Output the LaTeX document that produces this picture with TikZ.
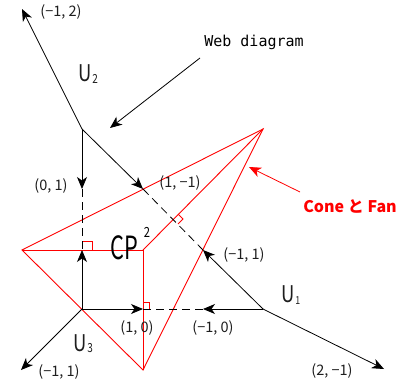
\documentclass[tikz,border=0pt]{standalone}
\usepackage{fontspec}
\usetikzlibrary{arrows.meta}
\newfontfamily\jpfont{Noto Sans CJK JP}
\newfontfamily\ufont[FakeStretch=0.8]{Noto Sans CJK JP}
\newfontfamily\cpfont[FakeStretch=0.68]{Noto Sans CJK JP}
\newfontfamily\webfont{DejaVu Sans Mono}
\definecolor{fanred}{RGB}{255,0,0}
\definecolor{labgray}{RGB}{30,30,30}
\begin{document}
\begin{tikzpicture}[x=1pt,y=-1pt,
  ax/.style={black, line width=0.8pt},
  axarrow/.style={ax, -{Stealth[length=12pt,width=10pt,inset=3.5pt]}},
  dashedax/.style={ax, dash pattern=on 8pt off 5pt},
  fan/.style={fanred, line width=0.9pt},
  rightmark/.style={fanred, line width=0.8pt},
  coordlab/.style={font=\jpfont\fontsize{14.5}{15}\selectfont, text=labgray, inner sep=0pt},
  ulab/.style={font=\ufont\fontsize{23}{24}\selectfont, text=labgray, inner sep=0pt, anchor=base west},
  every node/.append style={inner sep=0pt}
]
\useasboundingbox (0,0) rectangle (401,385);
% lattice points (pixel coordinates)
\coordinate (U3) at (82,309);
\coordinate (U2) at (82,129);
\coordinate (U1) at (263,309);
\coordinate (P01) at (82,250);
\coordinate (P02) at (82,189);
\coordinate (P12) at (143,189);
\coordinate (P21) at (203,250);
\coordinate (P10) at (143,309);
\coordinate (P20) at (203,309);
\coordinate (Tm15) at (22,9);
\coordinate (Tmm) at (21,370);
\coordinate (T5m) at (384,369);
% fan vertices
\coordinate (A) at (22,250);
\coordinate (CP) at (143,250);
\coordinate (B) at (143,370);
\coordinate (C) at (263,129);
% red fan
\draw[fan] (A) -- (C) -- (B) -- cycle;
\draw[fan] (A) -- (CP) -- (B);
\draw[fan] (CP) -- (C);
% web diagram
\draw[axarrow] (U2) -- (Tm15);
\draw[axarrow] (U2) -- (P02);
\draw[dashedax] (P02) -- (P01);
\draw[axarrow] (U3) -- (P01);
\draw[axarrow] (U2) -- (P12);
\draw[dashedax] (P12) -- (P21);
\draw[axarrow] (U1) -- (P21);
\draw[axarrow] (U3) -- (P10);
\draw[dashedax] (P10) -- (P20);
\draw[axarrow] (U1) -- (P20);
\draw[axarrow] (U3) -- (Tmm);
\draw[axarrow] (U1) -- (T5m);
% right-angle marks
\draw[rightmark] (83,241) -- (92,241) -- (92,250);
\draw[rightmark] (143,302) -- (149,302) -- (149,309);
\draw[rightmark] (178,214) -- (183,219) -- (178,224);
% labels
\node[coordlab] (l1) at (61,12) {(−1, 2)};
\node[coordlab] (l2) at (51,186) {(0, 1)};
\node[coordlab] (l3) at (180,183) {(1, −1)};
\node[coordlab] (l4) at (244,255) {(−1, 1)};
\node[coordlab] (l5) at (137,328) {(1, 0)};
\node[coordlab] (l6) at (213,328) {(−1, 0)};
\node[coordlab] (l7) at (59,372) {(−1, 1)};
\node[coordlab] (l8) at (332,371) {(2, −1)};
\node[ulab] (u2) at (78,82) {U\kern1pt\raisebox{-1.5pt}{\fontsize{12.5}{13}\selectfont 2}};
\node[ulab] (u1) at (281,302) {U\kern1pt\raisebox{-2pt}{\fontsize{11}{12}\selectfont 1}};
\node[ulab] (u3) at (73,351) {U\kern1pt\raisebox{-1.5pt}{\fontsize{12.5}{13}\selectfont 3}};
\node[anchor=base west, text=black, font=\cpfont\fontsize{32}{33}\selectfont] (cplab) at (110,259)
  {CP\kern6pt\raisebox{22pt}{\ufont\fontsize{14}{15}\selectfont 2}};
\node[anchor=base, text=black, font=\webfont\fontsize{15}{16}\selectfont] (web) at (254,47) {Web diagram};
\node[anchor=base, text=fanred, font=\jpfont\bfseries\fontsize{16}{17}\selectfont] (cone) at (350,212) {Cone と Fan};
% pointer arrows
\coordinate (webtip) at (110,128);
\coordinate (conetip) at (249,167);
\draw[axarrow] (200,58) -- (webtip);
\draw[axarrow, fanred] (300,192) -- (conetip);
\end{tikzpicture}
\end{document}
